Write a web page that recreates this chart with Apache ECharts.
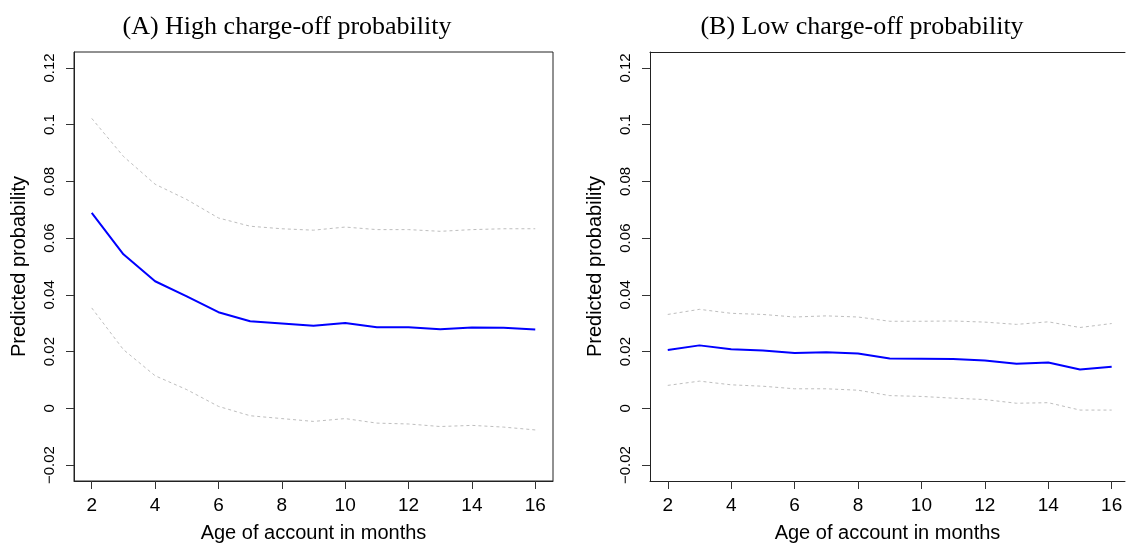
<!DOCTYPE html>
<html>
<head>
<meta charset="utf-8">
<script src="https://cdn.jsdelivr.net/npm/echarts@6/dist/echarts.min.js"></script>
<style>
  html, body { margin: 0; padding: 0; background: #fff; }
  #main { width: 1126px; height: 549px; }
</style>
</head>
<body>
<div id="main"></div>
<script>
// age of account (months)
var ages = [2, 3, 4, 5, 6, 7, 8, 9, 10, 11, 12, 13, 14, 15, 16];
var xTicks = [2, 4, 6, 8, 10, 12, 14, 16];
var yTicks = [-0.02, 0, 0.02, 0.04, 0.06, 0.08, 0.1, 0.12];

// (A) high charge-off probability
var highFit   = [0.0689, 0.0543, 0.0448, 0.0395, 0.0339, 0.0307, 0.0299, 0.0291, 0.0301, 0.0286, 0.0286, 0.0279, 0.0285, 0.0284, 0.0278];
var highUpper = [0.1022, 0.0888, 0.0790, 0.0736, 0.0671, 0.0642, 0.0633, 0.0628, 0.0639, 0.0630, 0.0630, 0.0624, 0.0630, 0.0633, 0.0633];
var highLower = [0.0354, 0.0207, 0.0115, 0.0066, 0.0007, -0.0026, -0.0036, -0.0046, -0.0036, -0.0052, -0.0055, -0.0064, -0.0060, -0.0066, -0.0076];

// (B) low charge-off probability
var lowFit   = [0.0206, 0.0222, 0.0208, 0.0204, 0.0195, 0.0198, 0.0193, 0.0176, 0.0175, 0.0174, 0.0169, 0.0157, 0.0162, 0.0137, 0.0147];
var lowUpper = [0.0331, 0.0349, 0.0335, 0.0331, 0.0322, 0.0326, 0.0322, 0.0307, 0.0307, 0.0308, 0.0304, 0.0296, 0.0305, 0.0285, 0.0299];
var lowLower = [0.0081, 0.0096, 0.0083, 0.0078, 0.0069, 0.0069, 0.0064, 0.0045, 0.0042, 0.0036, 0.0031, 0.0018, 0.0020, -0.0006, -0.0006];

var xMaxA = 16.56;
var xMaxB = 16.42;   // right panel runs off the page edge

function pairs(ys) {
    return ages.map(function (a, i) { return [a, ys[i]]; });
}

function xAxisFor(idx, xmax) {
    return {
        gridIndex: idx,
        type: 'value',
        position: 'bottom',
        min: 1.44,
        max: xmax,
        name: 'Age of account in months',
        nameLocation: 'middle',
        nameGap: 42,
        nameTextStyle: { fontFamily: 'Liberation Sans', fontSize: 20, color: '#000' },
        axisLine: { show: true, onZero: false, lineStyle: { color: '#222', width: 1 } },
        axisTick: { show: false },
        axisLabel: { customValues: xTicks, margin: 15, fontFamily: 'Liberation Sans', fontSize: 19, color: '#000' },
        splitLine: { show: false }
    };
}

function yAxisFor(idx) {
    return {
        gridIndex: idx,
        type: 'value',
        position: 'left',
        min: -0.0256,
        max: 0.1256,
        name: 'Predicted probability',
        nameLocation: 'middle',
        nameRotate: 90,
        nameGap: 45,
        nameTextStyle: { fontFamily: 'Liberation Sans', fontSize: 20, color: '#000' },
        axisLine: { show: true, onZero: false, lineStyle: { color: '#222', width: 1 } },
        axisTick: { show: false },
        axisLabel: {
            customValues: yTicks, rotate: 90, margin: 17,
            fontFamily: 'Liberation Sans', fontSize: 15, color: '#000',
            formatter: function (v) {
                var s = String(Math.round(v * 100) / 100);
                return s.replace('-', '\u2212');
            }
        },
        splitLine: { show: false }
    };
}

// plain axes that only carry the tick marks
function xTickAxis(idx, xmax) {
    return {
        gridIndex: idx, type: 'value', position: 'bottom', min: 1.44, max: xmax,
        axisLine: { show: false, onZero: false },
        axisTick: { show: true, length: 8, lineStyle: { color: '#333' }, customValues: xTicks },
        axisLabel: { show: false },
        splitLine: { show: false }
    };
}

function yTickAxis(idx) {
    return {
        gridIndex: idx, type: 'value', position: 'left', min: -0.0256, max: 0.1256,
        axisLine: { show: false, onZero: false },
        axisTick: { show: true, length: 8, lineStyle: { color: '#333' }, customValues: yTicks },
        axisLabel: { show: false },
        splitLine: { show: false }
    };
}

function lineSeries(idx, ys, kind) {
    var style = kind === 'fit'
        ? { color: '#0000ff', width: 2 }
        : { color: '#bebebe', width: 1, type: [3, 3] };
    return {
        type: 'line',
        xAxisIndex: idx,
        yAxisIndex: idx,
        data: pairs(ys),
        showSymbol: false,
        symbol: 'none',
        lineStyle: style
    };
}

var myChart = echarts.init(document.getElementById('main'));
myChart.setOption({
    animation: false,
    backgroundColor: '#fff',
    title: [
        {
            text: '(A) High charge-off probability',
            left: 282, top: 9, textAlign: 'center',
            textStyle: { fontFamily: 'Liberation Serif', fontWeight: 'normal', fontSize: 26, color: '#000' }
        },
        {
            text: '(B) Low charge-off probability',
            left: 857, top: 9, textAlign: 'center',
            textStyle: { fontFamily: 'Liberation Serif', fontWeight: 'normal', fontSize: 26, color: '#000' }
        }
    ],
    grid: [
        { left: 74, top: 52, width: 479, height: 429, show: true, borderColor: '#222', borderWidth: 1 },
        { left: 650, top: 52, width: 475, height: 429, show: false }
    ],
    xAxis: [
        xAxisFor(0, xMaxA),
        xAxisFor(1, xMaxB),
        {
            // top edge of the right-hand box
            gridIndex: 1, type: 'value', position: 'top', min: 1.44, max: xMaxB,
            axisLine: { show: true, onZero: false, lineStyle: { color: '#222', width: 1 } },
            axisTick: { show: false }, axisLabel: { show: false }, splitLine: { show: false }
        },
        xTickAxis(0, xMaxA),
        xTickAxis(1, xMaxB)
    ],
    yAxis: [yAxisFor(0), yAxisFor(1), yTickAxis(0), yTickAxis(1)],
    series: [
        lineSeries(0, highUpper, 'band'),
        lineSeries(0, highLower, 'band'),
        lineSeries(0, highFit, 'fit'),
        lineSeries(1, lowUpper, 'band'),
        lineSeries(1, lowLower, 'band'),
        lineSeries(1, lowFit, 'fit')
    ]
});
</script>
</body>
</html>
